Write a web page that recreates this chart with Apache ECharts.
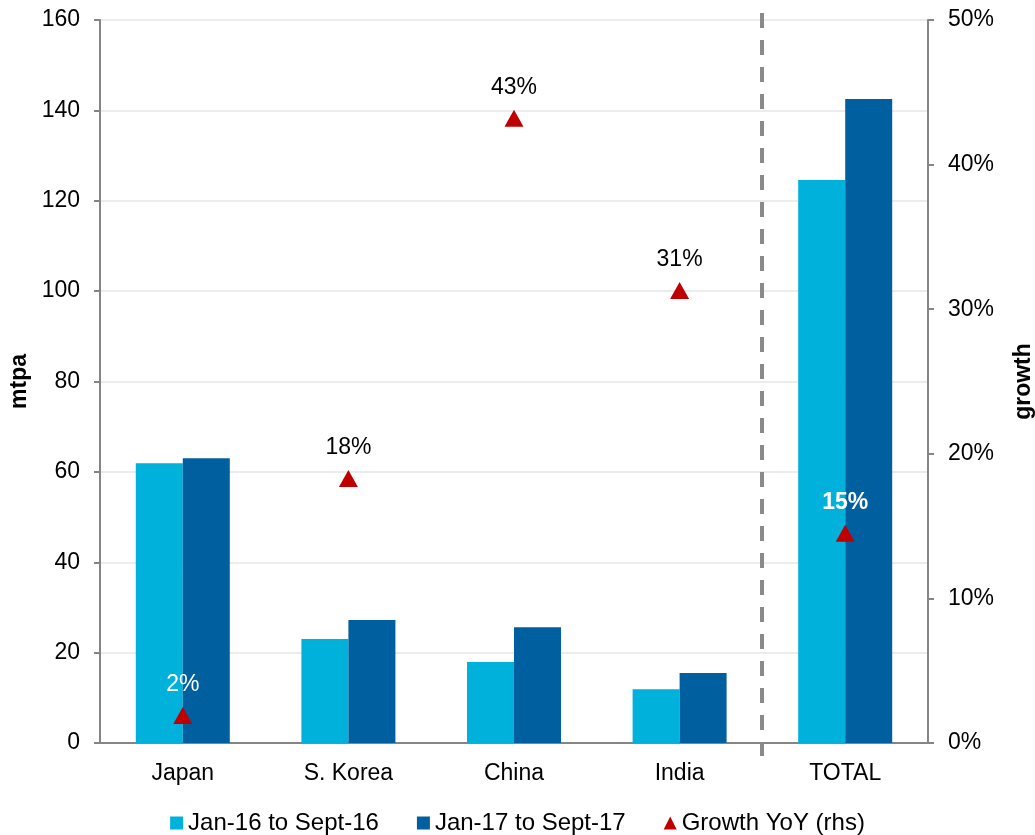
<!DOCTYPE html>
<html>
<head>
<meta charset="utf-8">
<script src="https://cdn.jsdelivr.net/npm/echarts@6/dist/echarts.min.js"></script>
<style>
  html, body { margin: 0; padding: 0; background: #fff; }
  #chart { width: 1035px; height: 835px; }
</style>
</head>
<body>
<div id="chart"></div>
<script>
// data
const categories = ['Japan', 'S. Korea', 'China', 'India', 'TOTAL']
const period2016 = [61.9, 23.0, 17.9, 11.9, 124.6]
const period2017 = [63.0, 27.2, 25.6, 15.5, 142.5]
const growthYoY = [1.9, 18.3, 43.2, 31.3, 14.5]
const seriesNames = ['Jan-16 to Sept-16', 'Jan-17 to Sept-17', 'Growth YoY (rhs)']

const FONT = '"Liberation Sans", Arial, sans-serif'
const FS = 23
const axisGray = '#858585'

const chart = echarts.init(document.getElementById('chart'))

const growthData = growthYoY.map((v, i) => {
  const item = { value: v }
  if (i === 0) item.label = { color: '#fff' }
  if (i === categories.length - 1) item.label = { color: '#fff', fontWeight: 'bold' }
  return item
})

const options = {
  animation: false,
  textStyle: { fontFamily: FONT },
  grid: { left: 100, right: 107, top: 20, bottom: 92, outerBoundsMode: 'none', containLabel: false },
  legend: {
    top: 806,
    left: 'center',
    itemWidth: 13,
    itemHeight: 13,
    itemGap: 38,
    textStyle: { fontSize: 24, color: '#000', fontFamily: FONT },
    data: [
      { name: seriesNames[0], icon: 'rect' },
      { name: seriesNames[1], icon: 'rect' },
      { name: seriesNames[2], icon: 'triangle' },
    ],
  },
  xAxis: {
    type: 'category',
    data: categories,
    axisLine: { lineStyle: { color: axisGray, width: 2 } },
    axisTick: { length: 6, lineStyle: { color: axisGray, width: 2 } },
    axisLabel: { fontSize: FS, color: '#000', margin: 19 },
  },
  yAxis: [
    {
      type: 'value',
      min: 0,
      max: 160,
      interval: 20,
      name: 'mtpa',
      nameLocation: 'middle',
      nameGap: 69,
      nameRotate: 90,
      nameTextStyle: { fontSize: FS, fontWeight: 'bold', color: '#000' },
      axisLine: { show: true, lineStyle: { color: axisGray, width: 2 } },
      axisTick: { show: true, length: 6, lineStyle: { color: axisGray, width: 2 } },
      axisLabel: { fontSize: FS, color: '#000', margin: 20 },
      splitLine: { lineStyle: { color: '#ececec', width: 2 } },
    },
    {
      type: 'value',
      min: 0,
      max: 50,
      interval: 10,
      position: 'right',
      name: 'growth',
      nameLocation: 'middle',
      nameGap: 84,
      nameRotate: 90,
      nameTextStyle: { fontSize: FS, fontWeight: 'bold', color: '#000' },
      axisLine: { show: true, lineStyle: { color: axisGray, width: 2 } },
      axisTick: { show: true, length: 6, lineStyle: { color: axisGray, width: 2 } },
      axisLabel: { fontSize: FS, color: '#000', margin: 20, formatter: '{value}%' },
      splitLine: { show: false },
    },
  ],
  series: [
    {
      name: seriesNames[0],
      type: 'bar',
      data: period2016,
      barWidth: 47,
      barGap: '0%',
      itemStyle: { color: '#00B1DB' },
    },
    {
      name: seriesNames[1],
      type: 'bar',
      data: period2017,
      barWidth: 47,
      barGap: '0%',
      itemStyle: { color: '#00609F' },
    },
    {
      name: seriesNames[2],
      type: 'scatter',
      yAxisIndex: 1,
      symbol: 'triangle',
      symbolSize: [19, 17],
      z: 5,
      itemStyle: { color: '#C00000', opacity: 1 },
      label: {
        show: true,
        position: 'top',
        distance: 11,
        fontSize: FS,
        color: '#000',
        formatter: (p) => Math.round(p.value) + '%',
      },
      data: growthData,
    },
  ],
}

chart.setOption(options)

// dashed separator between India and TOTAL, placed from the category axis
const xIndia = chart.convertToPixel({ xAxisIndex: 0 }, 'India')
const xTotal = chart.convertToPixel({ xAxisIndex: 0 }, 'TOTAL')
const xSep = Math.round((xIndia + xTotal) / 2)
const yTop = chart.convertToPixel({ yAxisIndex: 0 }, 160)
const yBottom = chart.convertToPixel({ yAxisIndex: 0 }, 0)
chart.setOption({
  graphic: [
    {
      type: 'line',
      z: 10,
      shape: { x1: xSep, y1: yTop - 7, x2: xSep, y2: yBottom + 13 },
      style: { stroke: '#8a8a8a', lineWidth: 4, lineDash: [15, 12] },
    },
  ],
})
</script>
</body>
</html>
